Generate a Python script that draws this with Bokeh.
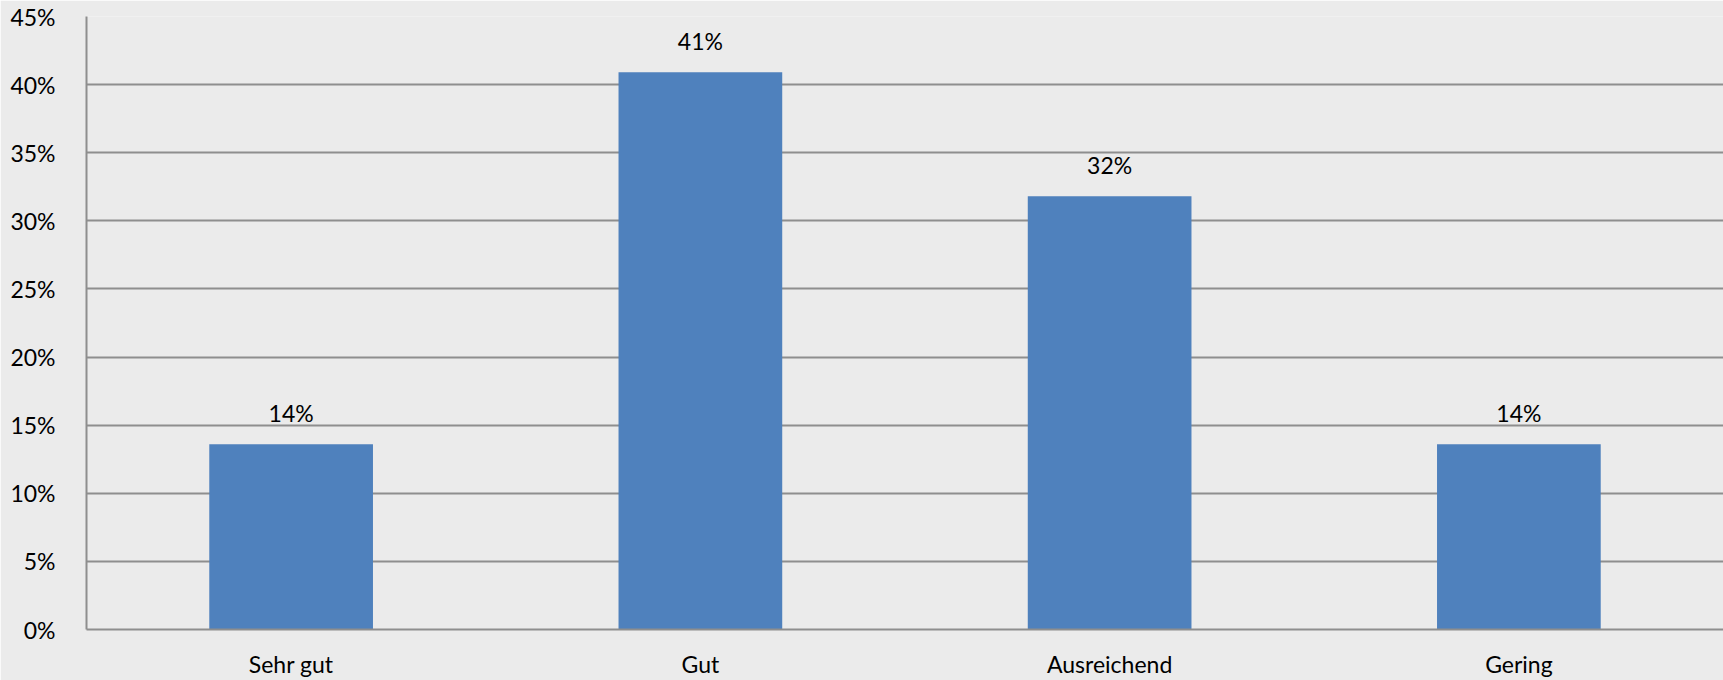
from bokeh.plotting import figure
from bokeh.models import ColumnDataSource, FactorRange, Range1d, FixedTicker, PrintfTickFormatter
from bokeh.core.properties import value
from bokeh.embed import file_html
from bokeh.resources import INLINE

# Rating categories and their share of answers (percent)
categories = ["Sehr gut", "Gut", "Ausreichend", "Gering"]
shares = [13.6, 40.9, 31.8, 13.6]
y_ticks = [0, 5, 10, 15, 20, 25, 30, 35, 40, 45]

labels = [f"{round(v):d}%" for v in shares]
src = ColumnDataSource(dict(cat=categories, share=shares, label=labels))

FONT = "Lato"
BG = "#EBEBEB"
GRID = "#8E8E8E"

p = figure(
    width=1723, height=680,
    x_range=FactorRange(*categories, range_padding=0),
    y_range=Range1d(0, 45),
    output_backend="svg", toolbar_location=None,
    background_fill_color=BG, border_fill_color=BG,
)
p.min_border_left = 86
p.min_border_right = 0
p.min_border_top = 16
p.min_border_bottom = 48
p.outline_line_color = None

p.vbar(x="cat", top="share", width=0.4, source=src,
       fill_color="#4F81BD", line_color=None)

p.text(x="cat", y="share", text="label", source=src,
       text_align="center", text_baseline="bottom", y_offset=-17,
       text_font=value(FONT), text_font_size="23px", text_color="#000000")

# Grid
p.xgrid.grid_line_color = None
p.ygrid.ticker = FixedTicker(ticks=y_ticks)
p.ygrid.grid_line_color = GRID
p.ygrid.grid_line_width = 2

# Y axis
p.yaxis.ticker = FixedTicker(ticks=y_ticks)
p.yaxis.formatter = PrintfTickFormatter(format="%d%%")
p.yaxis.axis_line_color = GRID
p.yaxis.axis_line_width = 2
p.yaxis.major_tick_line_color = None
p.yaxis.minor_tick_line_color = None
p.yaxis.major_label_standoff = 25
p.yaxis.major_label_text_font = FONT
p.yaxis.major_label_text_font_size = "23px"
p.yaxis.major_label_text_color = "#000000"

# X axis
p.xaxis.axis_line_color = GRID
p.xaxis.axis_line_width = 2
p.xaxis.major_tick_line_color = None
p.xaxis.minor_tick_line_color = None
p.xaxis.major_label_standoff = 14
p.xaxis.major_label_text_font = FONT
p.xaxis.major_label_text_font_size = "23px"
p.xaxis.major_label_text_color = "#000000"

open("out.html", "w").write(file_html(p, INLINE))
